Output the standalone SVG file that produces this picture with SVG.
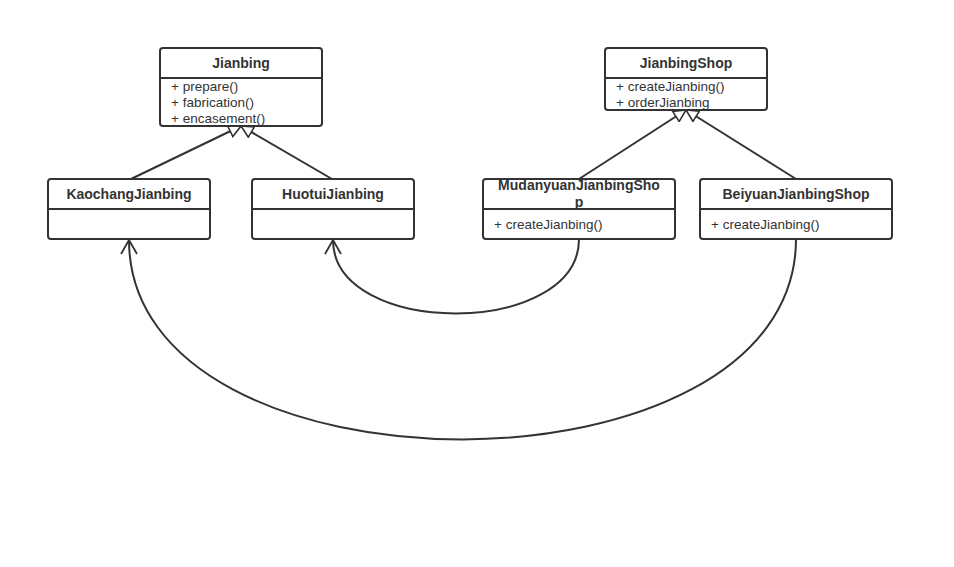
<svg xmlns="http://www.w3.org/2000/svg" width="954" height="567" viewBox="0 0 954 567">
<style>
.box{fill:#fff;stroke:#333;stroke-width:2}
.div{stroke:#333;stroke-width:2}
.t{font-family:"Liberation Sans",Arial,sans-serif;font-size:14px;font-weight:bold;fill:#333;text-anchor:middle}
.a{font-family:"Liberation Sans",Arial,sans-serif;font-size:13.5px;fill:#333}
.ln{fill:none;stroke:#333;stroke-width:2}
</style>
<defs>
<marker id="tri" viewBox="0 0 14 14" refX="13" refY="7" markerWidth="14" markerHeight="14" markerUnits="userSpaceOnUse" orient="auto">
<path d="M1 1 L13 7 L1 13 Z" fill="#fff" stroke="#333" stroke-width="1.6"/>
</marker>
<marker id="open" viewBox="0 0 16 18" refX="15" refY="9" markerWidth="16" markerHeight="18" markerUnits="userSpaceOnUse" orient="auto">
<path d="M1 1 L15 9 L1 17" fill="none" stroke="#333" stroke-width="1.8"/>
</marker>
</defs>
<g id="connectors">
<line class="ln" x1="131" y1="179" x2="241" y2="126" marker-end="url(#tri)"/>
<line class="ln" x1="332" y1="179" x2="241" y2="126" marker-end="url(#tri)"/>
<line class="ln" x1="579" y1="179" x2="686" y2="110" marker-end="url(#tri)"/>
<line class="ln" x1="796" y1="179" x2="686" y2="110" marker-end="url(#tri)"/>
<path class="ln" d="M579 239 C579 338, 333 338, 333 240" marker-end="url(#open)"/>
<path class="ln" d="M796 239 C796 506, 129 506, 129 240" marker-end="url(#open)"/>
</g>
<g id="Jianbing">
<rect class="box" x="160" y="48" width="162" height="78" rx="3"/>
<line class="div" x1="160" y1="78" x2="322" y2="78"/>
<text class="t" x="241" y="68">Jianbing</text>
<text class="a" x="171" y="91">+ prepare()</text>
<text class="a" x="171" y="107">+ fabrication()</text>
<text class="a" x="171" y="123">+ encasement()</text>
</g>
<g id="JianbingShop">
<rect class="box" x="605" y="48" width="162" height="62" rx="3"/>
<line class="div" x1="605" y1="78" x2="767" y2="78"/>
<text class="t" x="686" y="68">JianbingShop</text>
<text class="a" x="616" y="91">+ createJianbing()</text>
<text class="a" x="616" y="107">+ orderJianbing</text>
</g>
<g id="KaochangJianbing">
<rect class="box" x="48" y="179" width="162" height="60" rx="3"/>
<line class="div" x1="48" y1="209" x2="210" y2="209"/>
<text class="t" x="129" y="199">KaochangJianbing</text>
</g>
<g id="HuotuiJianbing">
<rect class="box" x="252" y="179" width="162" height="60" rx="3"/>
<line class="div" x1="252" y1="209" x2="414" y2="209"/>
<text class="t" x="333" y="199">HuotuiJianbing</text>
</g>
<g id="MudanyuanJianbingShop">
<rect class="box" x="483" y="179" width="192" height="60" rx="3"/>
<line class="div" x1="483" y1="209" x2="675" y2="209"/>
<text class="t" x="579" y="190">MudanyuanJianbingSho</text>
<text class="t" x="579" y="207">p</text>
<text class="a" x="494" y="229">+ createJianbing()</text>
</g>
<g id="BeiyuanJianbingShop">
<rect class="box" x="700" y="179" width="192" height="60" rx="3"/>
<line class="div" x1="700" y1="209" x2="892" y2="209"/>
<text class="t" x="796" y="199">BeiyuanJianbingShop</text>
<text class="a" x="711" y="229">+ createJianbing()</text>
</g>
</svg>
